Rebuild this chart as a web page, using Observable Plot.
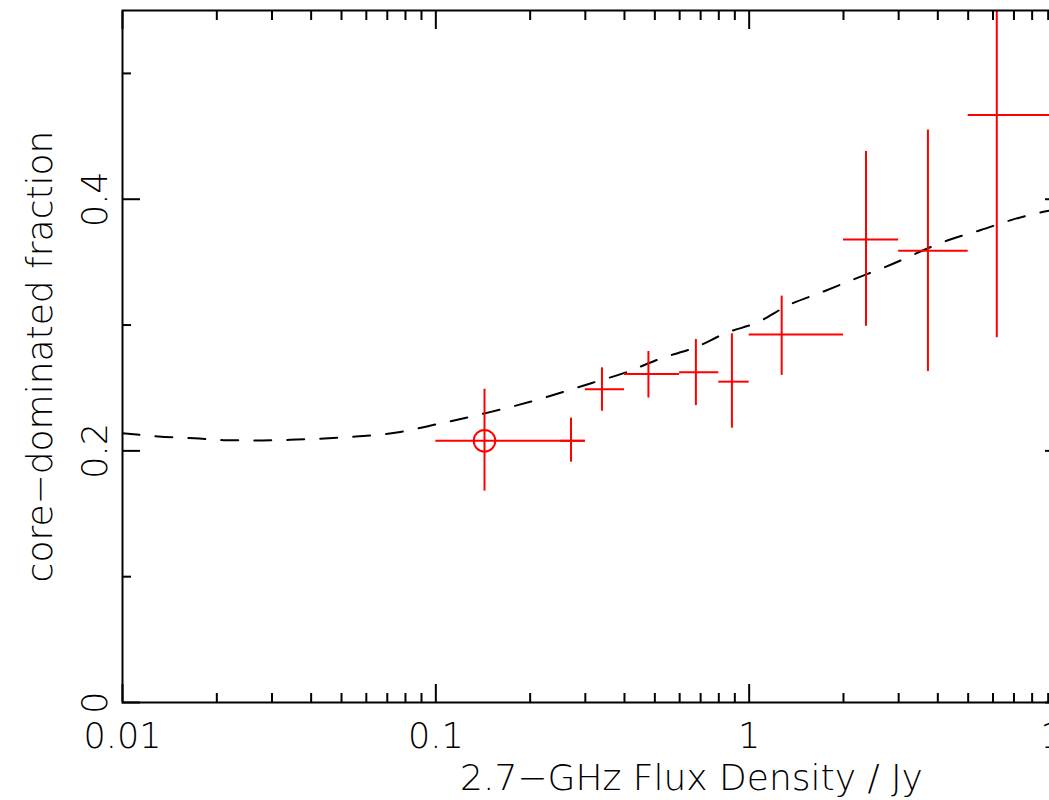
<!DOCTYPE html>
<html>
<head>
<meta charset="utf-8">
<script src="https://cdn.jsdelivr.net/npm/d3@7"></script>
<script src="https://cdn.jsdelivr.net/npm/@observablehq/plot@0.6"></script>
<style>
  html, body { margin: 0; padding: 0; background: #fff; overflow: hidden; width: 1049px; height: 800px; }
  #chart { width: 1049px; height: 800px; overflow: hidden; position: relative; }
  #chart svg { display: block; max-width: none !important; width: 1100px !important; height: 800px !important; }
</style>
</head>
<body>
<div id="chart"></div>
<script>
// ---- data ----
const fluxMid   = [0.143, 0.270, 0.339, 0.477, 0.676, 0.881, 1.27, 2.36, 3.72, 6.17];
const fluxLo    = [0.10, 0.25, 0.30, 0.40, 0.60, 0.80, 1.00, 2.00, 3.00, 5.00];
const fluxHi    = [0.30, 0.30, 0.40, 0.60, 0.80, 1.00, 2.00, 3.00, 5.00, 10.0];
const fraction  = [0.208, 0.208, 0.249, 0.261, 0.2625, 0.255, 0.2925, 0.368, 0.359, 0.467];
const fracLo    = [0.168, 0.191, 0.2315, 0.242, 0.236, 0.218, 0.260, 0.299, 0.263, 0.290];
const fracHi    = [0.249, 0.226, 0.266, 0.279, 0.2885, 0.293, 0.323, 0.438, 0.455, 0.644];
const circled   = [true, false, false, false, false, false, false, false, false, false];

const modelFlux     = [0.01, 0.013, 0.017, 0.021, 0.028, 0.036, 0.053, 0.077, 0.1, 0.15, 0.2, 0.315, 0.4, 0.53, 0.67, 0.85, 1.06, 1.34, 1.7, 2.14, 2.71, 4.38, 5.49, 6.97, 8.7, 10];
const modelFraction = [0.214, 0.2115, 0.210, 0.2085, 0.2083, 0.209, 0.211, 0.215, 0.221, 0.231, 0.239, 0.254, 0.262, 0.274, 0.282, 0.294, 0.302, 0.316, 0.326, 0.336, 0.346, 0.368, 0.3755, 0.384, 0.390, 0.393];

const xMajor = [0.01, 0.1, 1, 10];
const xMajorLabels = ["0.01", "0.1", "1", "10"];
const xMinor = [2,3,4,5,6,7,8,9].flatMap(m => [m * 0.01, m * 0.1, m * 1]);
const yMajor = [0, 0.2, 0.4];
const yMajorLabels = ["0", "0.2", "0.4"];
const yMinor = [0.1, 0.3, 0.5];

const xTitle = "2.7\u2212GHz Flux Density / Jy";
const yTitle = "core\u2212dominated fraction";

// ---- tables built from the arrays ----
const points = fluxMid.map((x, i) => ({
  x, y: fraction[i], xlo: fluxLo[i], xhi: fluxHi[i], ylo: fracLo[i], yhi: fracHi[i], circ: circled[i]
}));
const model = modelFlux.map((x, i) => ({x, y: modelFraction[i]}));

const FONT = "'DejaVu Sans', Roboto, sans-serif";
const FW = 200;
const FS = 35;
const red = "#ff0000";
const blank = () => "";

const chart = Plot.plot({
  width: 1100,
  height: 800,
  marginLeft: 122,
  marginRight: 38,
  marginTop: 10,
  marginBottom: 98,
  style: {fontFamily: FONT, fontWeight: FW, background: "white", color: "black", maxWidth: "none"},
  x: {type: "log", domain: [0.01, 10]},
  y: {type: "linear", domain: [0, 0.55]},
  marks: [
    // ticks on all four sides, pointing inward
    Plot.axisX(xMajor, {anchor: "bottom", tickSize: -18, tickFormat: blank, label: null, strokeWidth: 2}),
    Plot.axisX(xMinor, {anchor: "bottom", tickSize: -9, tickFormat: blank, label: null, strokeWidth: 2}),
    Plot.axisX(xMajor, {anchor: "top", tickSize: -18, tickFormat: blank, label: null, strokeWidth: 2}),
    Plot.axisX(xMinor, {anchor: "top", tickSize: -9, tickFormat: blank, label: null, strokeWidth: 2}),
    Plot.axisY(yMajor, {anchor: "left", tickSize: -18, tickFormat: blank, label: null, strokeWidth: 2}),
    Plot.axisY(yMinor, {anchor: "left", tickSize: -9, tickFormat: blank, label: null, strokeWidth: 2}),
    Plot.axisY(yMajor, {anchor: "right", tickSize: -18, tickFormat: blank, label: null, strokeWidth: 2}),
    Plot.axisY(yMinor, {anchor: "right", tickSize: -9, tickFormat: blank, label: null, strokeWidth: 2}),
    // tick labels
    Plot.text(xMajor, {x: d => d, frameAnchor: "bottom", dy: 34, text: (d, i) => xMajorLabels[i],
      fontSize: FS, fontWeight: FW, fill: "black", textAnchor: "middle", lineAnchor: "middle"}),
    Plot.text(yMajor, {y: d => d, frameAnchor: "left", dx: -27, rotate: -90, text: (d, i) => yMajorLabels[i],
      fontSize: FS, fontWeight: FW, fill: "black", textAnchor: "middle", lineAnchor: "middle"}),
    // axis titles
    Plot.text([xTitle], {frameAnchor: "bottom", dx: 99, dy: 76, text: d => d,
      fontSize: 36, fontWeight: FW, fill: "black", textAnchor: "middle", lineAnchor: "middle", letterSpacing: "1.6px"}),
    Plot.text([yTitle], {frameAnchor: "left", dx: -82, rotate: -90, text: d => d,
      fontSize: 36, fontWeight: FW, fill: "black", textAnchor: "middle", lineAnchor: "middle", letterSpacing: "0.5px"}),
    // model curve
    Plot.line(model, {x: "x", y: "y", stroke: "black", strokeWidth: 2, strokeDasharray: "17,16", curve: "monotone-x", clip: true}),
    // error bars
    Plot.ruleY(points, {y: "y", x1: "xlo", x2: "xhi", stroke: red, strokeWidth: 2, clip: true}),
    Plot.ruleX(points, {x: "x", y1: "ylo", y2: "yhi", stroke: red, strokeWidth: 2, clip: true}),
    Plot.dot(points.filter(d => d.circ), {x: "x", y: "y", r: 10.8, stroke: red, strokeWidth: 2, fill: "none"}),
    // frame
    Plot.frame({stroke: "black", strokeWidth: 2})
  ]
});
document.getElementById("chart").appendChild(chart);
</script>
</body>
</html>
